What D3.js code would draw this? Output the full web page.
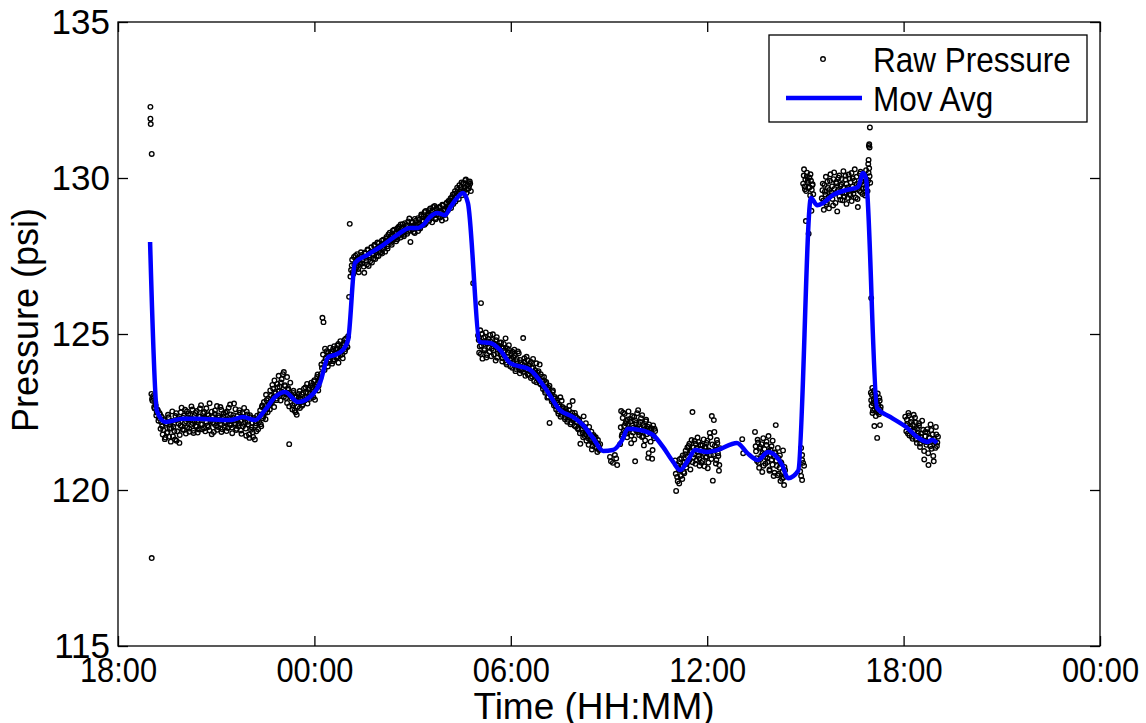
<!DOCTYPE html>
<html>
<head>
<meta charset="utf-8">
<script src="https://cdn.jsdelivr.net/npm/d3@7"></script>
<style>
  html, body { margin: 0; padding: 0; background: #fff; }
  svg { display: block; font-family: "Liberation Sans", Helvetica, Arial, sans-serif; }
</style>
</head>
<body>
<svg id="chart" width="1146" height="723"></svg>
<script>
// all times are hours after 18:00 on the first day

// moving average trace
const maHours = [0.98, 1.19, 1.44, 1.99, 2.41, 3.42, 3.82, 4.19, 4.49, 4.80, 5.10, 5.50, 5.96, 6.17, 6.42,
  6.63, 6.87, 7.03, 7.24, 7.61, 8.10, 8.52, 8.92, 9.17, 9.32, 9.53, 9.75, 9.99, 10.14, 10.36,
  10.54, 10.69, 11.06, 11.37, 11.67, 11.98, 12.59, 13.05, 13.50, 13.90, 14.21, 14.51, 14.82, 15.12, 15.40,
  15.58, 15.95, 16.35, 16.65, 16.96, 17.17, 17.42, 17.63, 18.00, 18.30, 18.91, 19.22, 19.55, 19.86, 20.07,
  20.29, 20.47, 20.78, 21.17, 21.36, 21.54, 21.85, 22.27, 22.61, 22.76, 22.85, 23.19, 23.59, 24.11, 24.41,
  24.72, 24.87, 25.02];
const maPsi = [127.95, 122.53, 122.18, 122.28, 122.28, 122.24, 122.34, 122.24, 122.56, 122.98, 123.14, 122.82, 123.08, 123.43, 124.26,
  124.33, 124.49, 124.81, 127.28, 127.53, 127.85, 128.17, 128.40, 128.40, 128.49, 128.75, 128.88, 128.81, 129.04, 129.36,
  129.52, 129.20, 124.74, 124.71, 124.49, 124.07, 123.85, 123.27, 122.56, 122.34, 122.08, 121.67, 121.25, 121.28, 121.60,
  121.96, 121.92, 121.76, 121.38, 120.90, 120.64, 120.96, 121.28, 121.22, 121.28, 121.51, 121.19, 120.96, 121.22, 121.12,
  120.80, 120.38, 120.62, 129.36, 129.13, 129.20, 129.46, 129.62, 129.71, 130.16, 130.00, 122.63, 122.34, 121.99, 121.70,
  121.54, 121.60, 121.51];

// raw readings, logged at a steady rate inside each run [first, last]
const runSpans = [[1.02, 4.28], [4.31, 6.15], [6.18, 7.03], [7.12, 10.78], [11.00, 14.73], [15.34, 16.41],
  [17.02, 18.39], [19.46, 20.38], [20.93, 21.24], [21.50, 22.98], [23.00, 23.30], [24.05, 25.05],
  [1.04, 4.26], [4.33, 6.13], [6.20, 7.01], [7.14, 10.76], [11.02, 14.71], [15.36, 16.39],
  [17.04, 18.37], [19.48, 20.36], [20.95, 21.22], [21.52, 22.96], [23.01, 23.29], [24.07, 25.03]];

const runEvening = [123.08, 122.86, 122.95, 122.61, 122.72, 122.48, 122.55, 122.31, 122.42, 122.18,
  122.05, 121.92, 122.27, 121.68, 122.14, 121.85, 122.33, 121.98, 121.55, 122.21,
  121.72, 122.12, 121.62, 122.46, 121.88, 122.30, 121.51, 122.07, 122.64, 121.94,
  122.38, 122.15, 121.81, 122.52, 122.26, 121.97, 122.41, 122.09, 122.58, 121.90,
  122.22, 122.47, 122.03, 121.84, 122.36, 122.61, 122.11, 121.95, 122.29, 122.50,
  121.88, 122.19, 122.43, 122.02, 122.78, 122.25, 121.79, 122.34, 122.12, 122.55,
  122.06, 121.93, 122.39, 122.21, 122.66, 121.86, 122.28, 122.45, 122.00, 122.17,
  122.52, 121.99, 122.31, 122.74, 122.08, 121.82, 122.40, 122.23, 122.59, 121.96,
  122.27, 122.13, 122.48, 121.91, 122.35, 122.04, 122.63, 122.18, 121.74, 122.42,
  122.10, 121.67, 122.33, 122.01, 121.85, 122.26, 121.62, 122.14, 122.38, 121.95];
const runLateEvening = [122.18, 122.55, 122.04, 122.71, 122.36, 122.62, 122.27, 122.88, 122.49, 122.75,
  122.58, 123.02, 122.81, 123.25, 122.66, 123.14, 122.93, 123.40, 123.06, 123.31,
  122.87, 123.55, 123.12, 123.78, 123.36, 122.95, 123.62, 123.21, 121.47, 123.44,
  123.05, 122.72, 123.18, 122.55, 122.96, 122.41, 122.84, 123.08, 122.63, 122.90,
  122.70, 123.12, 122.86, 123.29, 122.98, 122.77, 123.21, 122.92, 123.35, 123.04,
  123.16, 123.48, 122.89, 123.31, 123.62, 123.19, 123.55];
const runMidnight = [123.58, 124.02, 125.52, 125.38, 123.85, 124.21, 124.45, 123.96, 124.30, 124.12,
  124.38, 124.05, 124.52, 124.19, 124.41, 124.27, 124.63, 124.08, 124.47, 124.33,
  124.56, 124.22, 124.71, 124.44, 124.86, 124.60, 124.93];
const runNight = [127.05, 127.38, 126.92, 127.22, 127.51, 127.14, 127.43, 126.98, 127.30, 127.62,
  127.26, 127.49, 126.96, 127.58, 127.35, 127.71, 127.18, 127.46, 127.64, 127.29,
  127.55, 127.82, 127.40, 127.68, 127.93, 127.50, 127.77, 127.61, 127.99, 127.72,
  127.88, 127.64, 128.05, 127.81, 128.19, 127.95, 128.12, 127.86, 128.31, 128.03,
  128.22, 127.97, 128.38, 128.14, 128.45, 128.09, 128.29, 128.52, 128.18, 128.36,
  128.47, 128.21, 128.61, 128.33, 127.95, 128.44, 128.58, 128.27, 128.69, 128.39,
  128.52, 128.30, 128.66, 128.43, 128.78, 128.49, 128.62, 128.91, 128.55, 128.74,
  128.86, 128.63, 129.02, 128.71, 128.95, 128.80, 129.10, 128.68, 128.99, 128.84,
  129.05, 128.73, 128.92, 129.14, 128.81, 129.00, 128.69, 129.21, 128.96, 129.11,
  129.28, 129.04, 129.39, 129.17, 129.50, 129.25, 129.43, 129.62, 129.33, 129.56,
  129.71, 129.45, 129.84, 129.60, 129.93, 129.52, 129.78, 129.66, 129.89, 129.58];
const runMorning = [124.95, 124.40, 125.12, 124.63, 124.21, 124.88, 124.52, 125.05, 124.33, 124.76,
  124.58, 124.97, 124.29, 124.81, 124.47, 124.69, 124.15, 124.90, 124.38, 124.62,
  124.44, 124.73, 124.12, 124.55, 124.30, 124.86, 124.02, 124.41, 124.64, 124.18,
  124.35, 123.92, 124.26, 124.50, 123.81, 124.13, 123.98, 124.38, 123.74, 124.09,
  123.88, 124.87, 124.22, 123.66, 123.95, 124.16, 123.72, 124.04, 123.59, 123.91,
  124.20, 123.68, 123.84, 123.45, 123.77, 123.56, 124.02, 123.38, 123.63, 123.24,
  123.51, 123.12, 123.40, 122.96, 123.28, 122.15, 123.05, 122.84, 123.19, 122.71,
  122.93, 122.58, 122.80, 122.44, 122.67, 122.35, 122.86, 122.49, 122.62, 122.27,
  122.52, 122.19, 122.45, 122.70, 122.11, 122.38, 122.85, 122.24, 122.47, 122.03,
  122.31, 121.95, 122.22, 121.48, 122.09, 121.84, 122.36, 121.73, 122.14, 121.90,
  121.66, 122.02, 121.58, 121.87, 121.41, 121.76, 121.53, 121.69, 121.35, 121.60, 121.28, 121.47];
const runLateMorning = [121.47, 122.53, 121.78, 122.48, 122.05, 121.86, 122.21, 121.69, 122.12, 121.93,
  122.28, 121.50, 122.07, 121.84, 122.34, 120.92, 122.15, 121.97, 122.56, 121.76,
  122.18, 121.88, 122.40, 121.72, 122.02, 121.59, 122.25, 121.95, 121.03, 122.10,
  121.82, 121.98, 121.00, 122.07, 121.66, 121.89];
const runNoon = [120.95, 119.97, 120.42, 120.78, 120.21, 120.63, 121.02, 120.35, 120.88, 120.54,
  121.15, 120.72, 121.36, 120.91, 121.48, 120.66, 121.22, 122.50, 121.05, 121.57,
  120.84, 121.33, 121.68, 121.10, 120.78, 121.45, 121.21, 120.93, 121.62, 121.36,
  121.04, 121.51, 120.70, 121.27, 121.83, 121.12, 122.37, 120.30, 122.24, 121.42,
  120.85, 121.60, 121.18, 120.62, 121.34];
const runAfternoon = [121.86, 121.24, 120.93, 121.52, 120.71, 121.38, 121.09, 120.58, 121.66, 121.15,
  120.84, 121.44, 121.01, 121.73, 120.66, 121.29, 120.97, 121.58, 120.45, 121.20,
  122.08, 120.77, 121.35, 120.52, 121.11, 120.89, 120.36, 121.27, 120.16, 120.63];
const runSurgeStart = [129.82, 130.28, 129.64, 128.62, 130.05, 129.91, 128.21, 129.70, 130.12, 128.95, 129.77, 129.48];
const runSurge = [129.35, 129.82, 128.98, 129.56, 130.04, 129.21, 129.68, 129.03, 129.91, 129.44,
  129.73, 129.12, 130.18, 129.50, 129.87, 128.93, 129.62, 130.08, 129.30, 129.79,
  129.54, 130.22, 129.40, 129.95, 129.17, 129.70, 130.11, 129.48, 129.86, 129.26,
  129.99, 129.61, 130.28, 129.37, 129.81, 129.07, 129.72, 130.14, 129.55, 129.90,
  129.66, 130.02, 129.44, 130.25, 129.78, 129.92, 130.31, 129.85];
const runAfterSurge = [123.12, 122.70, 123.27, 122.55, 122.91, 122.05, 122.83, 123.02, 122.62, 121.67,
  122.76, 122.48, 122.95, 122.08, 122.66];
const runEvening2 = [122.35, 121.88, 122.12, 122.47, 121.75, 122.03, 122.28, 121.64, 122.41, 121.92,
  122.16, 121.51, 121.83, 122.06, 121.38, 121.70, 122.22, 121.57, 120.98, 121.86,
  121.45, 121.95, 120.80, 121.66, 122.10, 121.32, 121.78, 120.92, 121.54, 122.02,
  121.41, 121.71];

// second logger channel, read between the first channel's samples
const runEveningB = [122.92, 123.01, 122.66, 122.81, 122.39, 122.58, 122.22, 122.47, 121.96, 122.35,
  121.78, 122.24, 121.63, 122.09, 121.83, 122.41, 121.71, 122.18, 121.97, 122.52,
  122.03, 121.89, 122.37, 121.58, 122.25, 122.13, 121.76, 122.49, 122.04, 122.32,
  121.92, 122.57, 122.20, 122.01, 122.44, 121.87, 122.29, 122.68, 122.15, 121.83,
  122.40, 122.06, 122.53, 122.24, 121.94, 122.35, 122.72, 122.10, 122.46, 121.98,
  122.30, 122.62, 122.07, 122.39, 121.91, 122.20, 122.51, 122.16, 121.86, 122.44,
  122.27, 122.69, 122.02, 122.33, 122.11, 122.57, 121.95, 122.36, 122.18, 122.48,
  121.89, 122.25, 122.64, 122.09, 122.42, 122.00, 122.31, 122.77, 122.14, 121.92,
  122.37, 122.05, 122.56, 122.22, 121.80, 122.46, 122.12, 122.29, 121.97, 122.51,
  122.19, 121.78, 122.40, 121.93, 122.15, 121.70, 122.31, 122.06, 121.88, 122.24];
const runLateEveningB = [122.42, 122.11, 122.66, 122.30, 122.82, 122.47, 123.05, 122.59, 122.93, 122.71,
  123.19, 122.84, 123.37, 122.97, 123.51, 123.10, 122.88, 123.29, 123.66, 123.02,
  123.45, 123.15, 123.71, 122.99, 123.33, 123.08, 122.79, 123.26, 122.68, 123.01,
  122.93, 122.58, 123.11, 122.77, 122.49, 123.00, 122.67, 122.95, 123.17, 122.81,
  123.07, 122.74, 123.25, 122.88, 123.14, 123.40, 122.96, 123.27, 123.09, 123.44,
  123.28, 122.97, 123.52, 123.21, 123.39, 123.70, 123.34];
const runMidnightB = [123.72, 123.91, 124.34, 124.10, 124.53, 124.24, 124.07, 124.39, 124.18, 124.56,
  124.29, 124.44, 124.13, 124.61, 124.36, 124.52, 124.25, 124.68, 124.40, 124.77,
  124.49, 124.35, 124.64, 124.81, 124.52, 124.72, 124.58];
const runNightB = [127.20, 126.99, 127.47, 127.11, 127.34, 127.56, 127.08, 127.40, 127.24, 127.53,
  127.37, 127.16, 127.61, 127.44, 127.23, 127.69, 127.52, 127.33, 127.78, 127.57,
  127.42, 127.86, 127.63, 127.48, 127.74, 127.91, 127.66, 127.84, 127.58, 128.02,
  127.79, 127.96, 128.11, 127.74, 128.01, 128.25, 127.92, 128.17, 128.07, 128.34,
  128.11, 128.27, 128.04, 128.43, 128.26, 128.51, 128.20, 128.39, 128.13, 128.55,
  128.35, 128.48, 128.28, 128.70, 128.42, 128.57, 128.36, 128.49, 128.24, 128.63,
  128.46, 128.71, 128.54, 128.38, 128.83, 128.60, 128.77, 128.50, 128.94, 128.69,
  128.79, 128.97, 128.75, 128.90, 128.58, 129.07, 128.84, 128.72, 129.03, 128.91,
  128.78, 129.08, 128.88, 128.64, 129.12, 128.95, 128.83, 129.18, 129.02, 129.26,
  129.15, 129.35, 129.21, 129.47, 129.30, 129.58, 129.38, 129.69, 129.49, 129.77,
  129.62, 129.86, 129.54, 129.81, 129.70, 129.95, 129.63, 129.88, 129.74, 129.82];
const runMorningB = [124.81, 124.60, 124.36, 125.00, 124.72, 124.48, 124.91, 124.25, 124.69, 124.84,
  124.43, 124.75, 124.53, 124.99, 124.34, 124.66, 124.80, 124.24, 124.57, 124.73,
  124.36, 124.59, 124.22, 124.68, 124.47, 124.08, 124.54, 124.27, 124.49, 123.97,
  124.22, 124.43, 124.06, 124.31, 123.88, 124.20, 124.44, 123.94, 124.17, 123.83,
  124.03, 123.79, 124.11, 123.86, 124.27, 123.70, 123.99, 123.81, 124.10, 123.64,
  123.93, 123.49, 123.75, 124.06, 123.58, 123.81, 123.42, 123.71, 123.50, 123.33,
  123.62, 123.18, 123.46, 123.25, 122.99, 123.34, 123.08, 122.90, 123.14, 122.79,
  122.98, 122.68, 122.89, 122.52, 122.74, 122.97, 122.41, 122.66, 122.53, 122.34,
  122.60, 122.41, 122.25, 122.55, 122.32, 122.16, 122.48, 122.29, 122.06, 122.37,
  122.18, 121.98, 122.27, 121.82, 122.12, 121.93, 121.69, 122.03, 121.79, 121.58,
  121.88, 121.45, 121.74, 121.62, 121.30, 121.55, 121.71, 121.38, 121.52, 121.22, 121.44, 121.31];
const runLateMorningB = [122.01, 121.72, 122.31, 121.90, 122.44, 122.14, 121.81, 122.26, 122.52, 121.96,
  122.19, 121.74, 122.37, 122.00, 121.62, 122.23, 121.91, 122.46, 121.85, 122.11,
  121.98, 122.30, 121.70, 122.08, 121.43, 121.94, 122.20, 121.79, 122.03, 121.18,
  121.92, 121.55, 121.85, 121.28, 121.74, 121.96];
const runNoonB = [120.52, 120.81, 120.28, 120.67, 120.99, 120.45, 120.74, 121.11, 120.58, 120.90,
  121.26, 120.83, 121.08, 121.41, 120.97, 121.25, 121.60, 120.89, 121.37, 121.14,
  121.48, 120.95, 121.22, 121.54, 121.01, 121.30, 120.87, 121.43, 121.16, 120.76,
  121.39, 121.07, 121.58, 120.88, 121.24, 121.69, 120.99, 121.46, 121.13, 121.86,
  121.28, 120.96, 121.51, 121.09, 120.80];
const runAfternoonB = [121.40, 121.02, 121.61, 120.87, 121.33, 120.99, 121.47, 121.18, 120.78, 121.31,
  121.06, 121.55, 120.90, 121.24, 120.62, 121.12, 121.40, 120.81, 121.07, 120.55,
  121.19, 120.94, 120.47, 121.03, 120.71, 120.29, 120.86, 120.58, 120.40, 120.74];
const runSurgeStartB = [130.08, 129.73, 129.95, 129.58, 130.17, 129.86, 129.69, 130.02, 129.44, 129.91, 129.62, 129.80];
const runSurgeB = [129.61, 129.28, 129.78, 129.47, 129.15, 129.88, 129.39, 129.62, 130.12, 129.54,
  129.33, 129.96, 129.65, 129.20, 129.83, 129.58, 130.01, 129.41, 129.74, 129.97,
  129.29, 129.69, 129.52, 130.07, 129.81, 129.36, 129.63, 129.98, 129.45, 130.16,
  129.72, 129.50, 129.91, 129.64, 130.04, 129.33, 129.76, 129.59, 130.20, 129.87,
  129.49, 129.80, 130.10, 129.69, 129.95, 129.58, 130.17, 130.06];
const runAfterSurgeB = [122.88, 123.05, 122.47, 122.78, 123.18, 122.59, 122.96, 122.37, 122.81, 122.52,
  123.09, 122.71, 122.43, 122.86, 122.57];
const runEvening2B = [122.08, 122.26, 121.81, 122.39, 121.97, 122.18, 121.71, 122.09, 121.87, 122.32,
  121.62, 121.96, 121.74, 122.14, 121.49, 121.81, 121.60, 121.93, 121.25, 121.72,
  121.54, 121.85, 121.18, 121.68, 121.40, 121.92, 121.57, 121.09, 121.63, 121.35,
  121.78, 121.52];

const runValues = [runEvening, runLateEvening, runMidnight, runNight, runMorning, runLateMorning,
  runNoon, runAfternoon, runSurgeStart, runSurge, runAfterSurge, runEvening2,
  runEveningB, runLateEveningB, runMidnightB, runNightB, runMorningB, runLateMorningB,
  runNoonB, runAfternoonB, runSurgeStartB, runSurgeB, runAfterSurgeB, runEvening2B];

// isolated readings [hours, psi]
const oddReadings = [[0.99, 132.28], [0.99, 131.90], [1.00, 131.73], [1.03, 130.77], [1.03, 117.82],
  [7.06, 126.19], [7.10, 126.84], [7.08, 128.53], [10.85, 126.63], [11.09, 125.99],
  [15.03, 121.06], [15.06, 120.92], [15.12, 120.87], [15.18, 121.12], [15.25, 120.80], [15.22, 121.01],
  [19.07, 121.63], [19.10, 121.18],
  [20.87, 121.35], [20.90, 121.12], [20.90, 120.96], [20.93, 120.87], [20.96, 120.78], [20.84, 120.60], [20.87, 120.45], [20.90, 120.32],
  [22.94, 131.03], [22.95, 131.08], [22.96, 130.98], [22.93, 130.58], [22.92, 130.45], [22.97, 131.62], [23.01, 126.15]];

const yTickValues = [115, 120, 125, 130, 135];
const xTickHours = [0, 6, 12, 18, 24, 30];

const width = 1146;
const height = 723;
const margin = { left: 118, right: 46, top: 22, bottom: 77 };
const fontSize = 35;

const start = new Date(2014, 0, 1, 18, 0);
const toDate = (h) => new Date(+start + h * 3600e3);

const svg = d3.select("#chart");

const x = d3.scaleTime()
  .domain([start, toDate(30)])
  .range([margin.left, width - margin.right]);
const y = d3.scaleLinear()
  .domain([115, 135])
  .range([height - margin.bottom, margin.top]);

const rawPoints = [];
runValues.forEach((values, i) => {
  const [a, b] = runSpans[i];
  const step = (b - a) / (values.length - 1);
  values.forEach((psi, k) => rawPoints.push({ date: toDate(a + k * step), psi }));
});
oddReadings.forEach(([h, psi]) => rawPoints.push({ date: toDate(h), psi }));

const maPoints = maHours.map((h, i) => ({ date: toDate(h), psi: maPsi[i] }));

// axes, ticks pointing inward on every side
const tickStyle = (squeeze) => (g) => {
  g.select(".domain").remove();
  g.selectAll("line").attr("stroke", "#000").attr("stroke-width", 1.3);
  g.selectAll("text")
    .attr("fill", "#000")
    .style("font-size", `${fontSize}px`)
    .attr("transform", `scale(${squeeze},1)`);
};

svg.append("g")
  .attr("transform", `translate(0,${y.range()[0]})`)
  .call(d3.axisBottom(x).tickValues(xTickHours.map(toDate)).tickFormat(d3.timeFormat("%H:%M"))
    .tickSize(-10).tickPadding(11))
  .call(tickStyle(0.88));

svg.append("g")
  .attr("transform", `translate(0,${y.range()[1]})`)
  .call(d3.axisTop(x).tickValues(xTickHours.map(toDate)).tickFormat("").tickSize(-10))
  .call(tickStyle(1));

svg.append("g")
  .attr("transform", `translate(${x.range()[0]},0)`)
  .call(d3.axisLeft(y).tickValues(yTickValues).tickSize(-10).tickPadding(8))
  .call(tickStyle(1));

svg.append("g")
  .attr("transform", `translate(${x.range()[1]},0)`)
  .call(d3.axisRight(y).tickValues(yTickValues).tickFormat("").tickSize(-10))
  .call(tickStyle(1));

svg.append("rect")
  .attr("x", x.range()[0])
  .attr("y", y.range()[1])
  .attr("width", x.range()[1] - x.range()[0])
  .attr("height", y.range()[0] - y.range()[1])
  .attr("fill", "none")
  .attr("stroke", "#000")
  .attr("stroke-width", 1.3);

// raw readings
svg.append("g")
  .selectAll("circle")
  .data(rawPoints)
  .join("circle")
  .attr("cx", (d) => x(d.date))
  .attr("cy", (d) => y(d.psi))
  .attr("r", 2.3)
  .attr("fill", "none")
  .attr("stroke", "#000")
  .attr("stroke-width", 1.35);

// moving average
svg.append("path")
  .datum(maPoints)
  .attr("fill", "none")
  .attr("stroke", "#0000ff")
  .attr("stroke-width", 4.5)
  .attr("stroke-linejoin", "round")
  .attr("d", d3.line().curve(d3.curveMonotoneX).x((d) => x(d.date)).y((d) => y(d.psi)));

// axis titles
svg.append("text")
  .attr("x", 594)
  .attr("y", 719)
  .attr("text-anchor", "middle")
  .style("font-size", "37px")
  .text("Time (HH:MM)");

svg.append("text")
  .attr("transform", "translate(38,320) rotate(-90)")
  .attr("text-anchor", "middle")
  .style("font-size", "36px")
  .text("Pressure (psi)");

// legend
const legend = svg.append("g").attr("transform", "translate(769,35)");
legend.append("rect")
  .attr("width", 318)
  .attr("height", 87)
  .attr("fill", "#fff")
  .attr("stroke", "#000")
  .attr("stroke-width", 1.3);
legend.append("circle")
  .attr("cx", 54).attr("cy", 24).attr("r", 2.3)
  .attr("fill", "none").attr("stroke", "#000").attr("stroke-width", 1.35);
legend.append("line")
  .attr("x1", 17).attr("x2", 93).attr("y1", 63).attr("y2", 63)
  .attr("stroke", "#0000ff").attr("stroke-width", 4.5);
[["Raw Pressure", 37], ["Mov Avg", 76]].forEach(([label, base]) => {
  legend.append("text")
    .attr("transform", `translate(104,${base}) scale(0.9,1)`)
    .style("font-size", `${fontSize}px`)
    .text(label);
});
</script>
</body>
</html>
